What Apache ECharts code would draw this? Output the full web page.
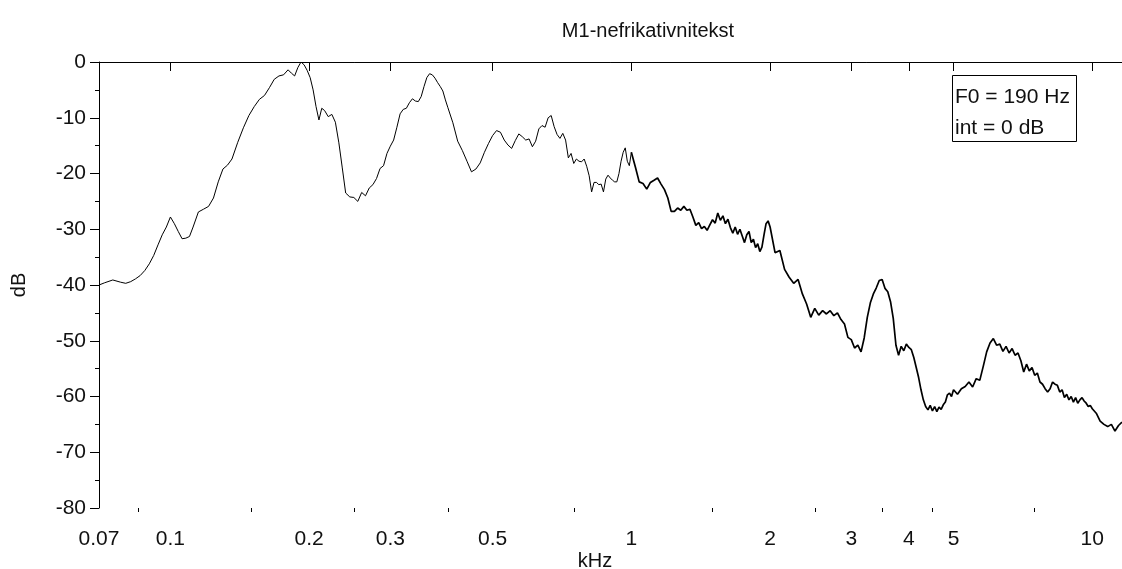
<!DOCTYPE html>
<html>
<head>
<meta charset="utf-8">
<script src="https://cdn.jsdelivr.net/npm/echarts@6/dist/echarts.min.js"></script>
<style>html,body{margin:0;padding:0;background:#fff}#c{width:1122px;height:569px}</style>
</head>
<body>
<div id="c"></div>
<script>
// ---- data (frequency in kHz, level in dB) ----
const freqA = [0.070,0.072,0.075,0.078,0.080,0.082,0.084,0.086,0.088,0.090,
  0.092,0.094,0.096,0.098,0.100,0.102,0.104,0.106,0.108,0.110,
  0.112,0.115,0.118,0.121,0.124,0.127,0.130,0.133,0.136,0.140,
  0.144,0.148,0.152,0.156,0.160,0.164,0.168,0.172,0.176,0.180,
  0.183,0.186,0.189,0.192,0.195,0.198,0.201,0.204,0.207,0.210,
  0.213,0.216,0.220,0.224,0.228,0.232,0.236,0.240,0.245,0.250,
  0.255,0.260,0.265,0.270,0.275,0.280,0.285,0.290,0.295,0.300,
  0.305,0.310,0.315,0.320,0.325,0.330,0.335,0.340,0.345,0.350,
  0.355,0.360,0.365,0.370,0.375,0.380,0.385,0.390,0.395,0.400];
const dbA = [-40.0,-39.6,-39.1,-39.5,-39.7,-39.4,-38.9,-38.3,-37.4,-36.2,
  -34.7,-32.8,-31.0,-29.6,-27.8,-29.0,-30.4,-31.7,-31.6,-31.3,
  -29.6,-26.9,-26.4,-25.9,-24.4,-21.5,-19.2,-18.5,-17.4,-14.4,
  -11.8,-9.6,-8.0,-6.7,-6.0,-4.6,-3.1,-2.5,-2.3,-1.4,
  -2.0,-2.5,-1.0,0.0,-0.5,-1.5,-2.8,-5.0,-8.0,-10.4,
  -8.3,-8.7,-9.8,-9.4,-10.8,-14.5,-19.0,-23.5,-24.2,-24.3,
  -25.0,-23.4,-24.0,-22.6,-22.0,-20.9,-19.1,-18.6,-16.4,-15.1,
  -14.0,-11.7,-9.3,-8.5,-8.3,-7.3,-6.6,-7.0,-7.1,-6.2,
  -4.4,-2.8,-2.1,-2.3,-2.9,-3.7,-4.4,-5.2,-6.8,-8.2];
const freqB = [0.41,0.42,0.43,0.44,0.45,0.46,0.47,0.48,0.49,0.50,
  0.51,0.52,0.53,0.54,0.55,0.56,0.57,0.58,0.59,0.60,
  0.61,0.62,0.63,0.64,0.65,0.66,0.67,0.68,0.69,0.70,
  0.71,0.72,0.73,0.74,0.75,0.76,0.77,0.78,0.79,0.80,
  0.81,0.82,0.83,0.84,0.85,0.86,0.87,0.88,0.89,0.90,
  0.91,0.92,0.93,0.94,0.95,0.96,0.97,0.98,0.99,1.00];
const dbB = [-10.9,-14.2,-15.9,-17.8,-19.7,-19.2,-18.1,-16.2,-14.6,-13.2,
  -12.3,-12.6,-14.0,-14.9,-15.5,-14.1,-12.9,-13.4,-14.0,-13.8,
  -15.2,-14.2,-12.0,-11.4,-11.7,-10.0,-9.6,-11.6,-13.0,-13.7,
  -12.8,-14.0,-17.2,-16.4,-18.2,-17.4,-17.8,-17.9,-17.4,-18.7,
  -20.4,-23.3,-21.6,-21.6,-22.0,-21.9,-23.3,-21.0,-20.3,-20.8,
  -21.2,-21.5,-21.5,-20.0,-17.8,-16.2,-15.4,-17.8,-18.6,-16.2];
const freqC = [1.02,1.04,1.06,1.08,1.10,1.12,1.14,1.16,1.18,1.20,
  1.22,1.24,1.26,1.28,1.30,1.32,1.34,1.36,1.38,1.40,
  1.42,1.44,1.46,1.48,1.50,1.52,1.54,1.56,1.58,1.60,
  1.62,1.64,1.66,1.68,1.70,1.72,1.74,1.76,1.78,1.80,
  1.82,1.84,1.86,1.88,1.90,1.92,1.94,1.96,1.98,2.00];
const dbC = [-18.8,-21.5,-21.8,-22.8,-21.6,-21.2,-20.8,-21.9,-22.9,-24.4,
  -26.8,-26.8,-26.2,-26.6,-25.9,-26.6,-26.4,-27.8,-29.3,-28.8,
  -29.9,-29.5,-30.2,-29.2,-28.3,-28.9,-27.1,-28.4,-27.6,-29.0,
  -28.2,-29.7,-30.7,-29.6,-30.9,-30.0,-31.2,-32.4,-31.0,-30.4,
  -32.4,-31.8,-33.3,-32.6,-34.0,-33.2,-31.0,-29.0,-28.5,-29.6];
const freqD = [2.05,2.10,2.15,2.20,2.25,2.30,2.35,2.40,2.45,2.50,
  2.55,2.60,2.65,2.70,2.75,2.80,2.85,2.90,2.95,3.00,
  3.05,3.10,3.15,3.20,3.25,3.30,3.35,3.40,3.45,3.50,
  3.55,3.60,3.65,3.70,3.75,3.80,3.85,3.90,3.95,4.00,
  4.05,4.10,4.15,4.20,4.25,4.30,4.35,4.40,4.45,4.50,
  4.55,4.60,4.65,4.70,4.75,4.80,4.85,4.90,4.95,5.00];
const dbD = [-34.2,-33.8,-37.2,-38.6,-39.7,-39.0,-41.6,-43.4,-45.8,-44.2,
  -45.4,-44.6,-45.2,-44.6,-45.5,-45.0,-46.2,-47.0,-49.4,-49.8,
  -51.3,-50.8,-52.0,-49.5,-45.8,-43.2,-41.6,-40.5,-39.2,-39.0,
  -40.6,-41.2,-43.0,-46.0,-50.8,-52.6,-51.0,-51.8,-50.6,-51.2,
  -51.6,-53.0,-54.8,-56.6,-58.8,-60.6,-61.8,-62.4,-61.6,-62.6,
  -61.8,-62.7,-61.9,-62.3,-61.5,-61.0,-59.7,-59.4,-60.0,-58.8];
const freqE = [5.1,5.2,5.3,5.4,5.5,5.6,5.7,5.8,5.9,6.0,
  6.1,6.2,6.3,6.4,6.5,6.6,6.7,6.8,6.9,7.0,
  7.1,7.2,7.3,7.4,7.5,7.6,7.7,7.8,7.9,8.0,
  8.1,8.2,8.3,8.4,8.5,8.6,8.7,8.8,8.9,9.0,
  9.1,9.2,9.3,9.4,9.5,9.6,9.7,9.8,9.9,10.0,
  10.2,10.4,10.6,10.8,11.0,11.2,11.4,11.6];
const dbE = [-59.6,-58.6,-58.2,-57.4,-58.3,-56.8,-57.1,-54.6,-52.0,-50.4,
  -49.6,-50.8,-50.6,-51.9,-51.0,-52.2,-51.4,-52.6,-52.2,-53.6,
  -55.6,-54.2,-55.4,-54.8,-56.2,-55.8,-57.4,-57.8,-58.6,-59.2,
  -58.6,-57.4,-57.8,-58.0,-59.2,-58.8,-60.2,-59.6,-60.6,-60.0,
  -61.0,-60.2,-61.2,-60.6,-60.2,-60.8,-61.2,-61.8,-61.6,-62.2,
  -63.0,-64.4,-65.0,-65.4,-65.0,-66.2,-65.2,-64.6];

// axis ticks / labels
const xMajorTicks = [0.07, 0.1, 0.2, 0.3, 0.5, 1, 2, 3, 4, 5, 10];
const xMinorTicks = [0.085, 0.15, 0.25, 0.4, 0.75, 1.5, 2.5, 3.5, 4.5, 7.5];
const titleText = 'M1-nefrikativnitekst';
const xName = 'kHz';
const yName = 'dB';
const infoLines = ['F0 = 190 Hz', 'int = 0 dB'];

function pairs(f, d) { return f.map((v, i) => [v, d[i]]); }
const lowData = pairs(freqA, dbA).concat(pairs(freqB, dbB));
const highData = [[freqB[freqB.length - 1], dbB[dbB.length - 1]]]
  .concat(pairs(freqC, dbC), pairs(freqD, dbD), pairs(freqE, dbE));

const FONT = 'Liberation Sans, Arial, sans-serif';
const FS_TICK = 21;
const FS_NAME = 20;
const FS_BOX = 21;
const XMIN = 0.07, XMAX = 11.6;
const fmt = v => String(Number(Number(v).toPrecision(3)));

const chart = echarts.init(document.getElementById('c'), null, {renderer: 'canvas'});
chart.setOption({
  animation: false,
  backgroundColor: '#fff',
  textStyle: {fontFamily: FONT},
  grid: {left: 99, right: -1, top: 62, bottom: 61, containLabel: false},
  xAxis: [
    {
      type: 'log', logBase: 10, min: XMIN, max: XMAX, position: 'bottom',
      axisLine: {show: true, lineStyle: {color: '#000', width: 1}},
      axisTick: {show: true, length: 9, customValues: xMajorTicks, lineStyle: {color: '#000'}},
      axisLabel: {show: true, customValues: xMajorTicks, formatter: fmt, color: '#111',
        fontSize: FS_TICK, fontFamily: FONT, margin: 21},
      splitLine: {show: false}, minorTick: {show: false}
    },
    {
      type: 'log', logBase: 10, min: XMIN, max: XMAX, position: 'bottom',
      axisLine: {show: false},
      axisTick: {show: true, length: 4, customValues: xMinorTicks, lineStyle: {color: '#000'}},
      axisLabel: {show: false}, splitLine: {show: false}
    },
    {
      type: 'log', logBase: 10, min: XMIN, max: XMAX, position: 'top',
      axisLine: {show: true, lineStyle: {color: '#000', width: 1}},
      axisTick: {show: false}, axisLabel: {show: false}, splitLine: {show: false}
    }
  ],
  yAxis: {
    type: 'value', min: -80, max: 0, interval: 10,
    name: yName, nameLocation: 'middle', nameGap: 70, nameRotate: 90,
    nameTextStyle: {color: '#111', fontSize: FS_NAME, fontFamily: FONT},
    axisLine: {show: true, lineStyle: {color: '#000', width: 1}},
    axisTick: {show: true, length: 9, lineStyle: {color: '#000'}},
    minorTick: {show: true, splitNumber: 2, length: 4, lineStyle: {color: '#000'}},
    axisLabel: {color: '#111', fontSize: FS_TICK, fontFamily: FONT, margin: 13},
    splitLine: {show: false}
  },
  title: {show: false},
  graphic: [
    {type: 'text', x: 648, y: 31, style: {text: titleText, fill: '#111', font: FS_NAME + 'px ' + FONT, textAlign: 'center', textVerticalAlign: 'middle'}},
    {type: 'text', x: 595, y: 561, style: {text: xName, fill: '#111', font: FS_NAME + 'px ' + FONT, textAlign: 'center', textVerticalAlign: 'middle'}},
    {type: 'rect', shape: {x: 952.5, y: 75.5, width: 124, height: 66}, style: {fill: '#fff', stroke: '#000', lineWidth: 1}},
    {type: 'text', x: 955, y: 97, style: {text: infoLines[0], fill: '#111', font: FS_BOX + 'px ' + FONT, textVerticalAlign: 'middle'}},
    {type: 'text', x: 955, y: 128, style: {text: infoLines[1], fill: '#111', font: FS_BOX + 'px ' + FONT, textVerticalAlign: 'middle'}}
  ],
  series: [
    {type: 'line', xAxisIndex: 0, data: lowData, showSymbol: false, symbol: 'none',
      lineStyle: {color: '#000', width: 1}, clip: true, z: 3},
    {type: 'line', xAxisIndex: 0, data: highData, showSymbol: false, symbol: 'none',
      lineStyle: {color: '#000', width: 1.7}, clip: true, z: 3}
  ]
});
</script>
</body>
</html>
